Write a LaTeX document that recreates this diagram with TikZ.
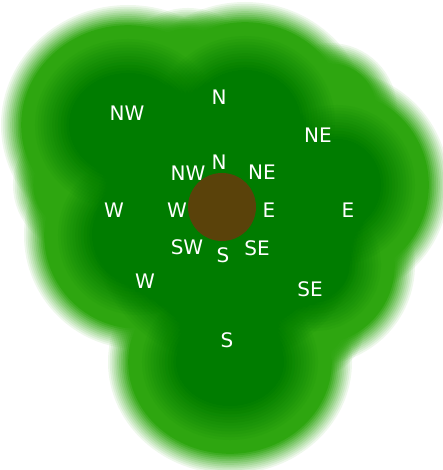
\documentclass[tikz,border=0pt]{standalone}
\usepackage{fontspec}
\setmainfont{DejaVu Sans}
\definecolor{gdark}{RGB}{0,124,0}
\definecolor{glight}{RGB}{46,166,16}
\definecolor{trunkbrown}{RGB}{90,66,10}
% lobes: centre x / centre y / x radius / y radius / inset of the opaque part
\newcommand\lightlobes{128/125/115/108/10, 245/122/112/108/10, 337/185/100/102/10, 315/265/88/88/10, 230/362/110/100/10, 138/235/102/102/10, 188/80/60/60/10, 80/185/55/55/10, 330/110/55/55/10, 316/328/36/36/10}
\newcommand\darklobes{128/125/115/108/62, 245/122/112/108/62, 337/185/100/102/62, 315/265/88/88/62, 230/362/110/100/62, 138/235/102/102/62, 228/228/95/95/0}
\tikzset{
  lab/.style={text=white, font=\fontsize{20}{24}\selectfont, inner sep=0pt},
}
\begin{document}
\begin{tikzpicture}[x=1pt,y=-1pt]
\useasboundingbox (0,0) rectangle (442,470);
% light canopy with soft outer edge
\foreach \cx/\cy/\rx/\ry/\ins in \lightlobes {
  \fill[glight] (\cx,\cy) ellipse [x radius={(\rx-\ins)*1pt}, y radius={(\ry-\ins)*1pt}];
  \foreach \j in {1,...,12} {
    \pgfmathsetmacro{\lw}{2*22*\j/12}
    \pgfmathsetmacro{\aa}{1/\j}
    \draw[glight, line width=\lw pt, opacity=\aa] (\cx,\cy) ellipse [x radius={(\rx-\ins)*1pt}, y radius={(\ry-\ins)*1pt}];
  }
}
% dark interior with soft edge
\foreach \cx/\cy/\rx/\ry/\ins in \darklobes {
  \fill[gdark] (\cx,\cy) ellipse [x radius={(\rx-\ins)*1pt}, y radius={(\ry-\ins)*1pt}];
  \foreach \j in {1,...,14} {
    \pgfmathsetmacro{\lw}{2*40*\j/14}
    \pgfmathsetmacro{\aa}{1/\j}
    \draw[gdark, line width=\lw pt, opacity=\aa] (\cx,\cy) ellipse [x radius={(\rx-\ins)*1pt}, y radius={(\ry-\ins)*1pt}];
  }
}
% trunk
\node[circle, fill=trunkbrown, minimum size=68pt, inner sep=0pt] (trunk) at (222,207) {};
% outer labels
\node[lab] (oN)  at (219,97)  {N};
\node[lab] (oNW) at (127,113) {NW};
\node[lab] (oNE) at (318,135) {NE};
\node[lab] (oE)  at (348,210) {E};
\node[lab] (oW)  at (114,210) {W};
\node[lab] (oSW) at (145,281) {W};
\node[lab] (oSE) at (310,289) {SE};
\node[lab] (oS)  at (227,340) {S};
% inner labels
\node[lab] (iN)  at (219,162) {N};
\node[lab] (iNW) at (188,173) {NW};
\node[lab] (iNE) at (262,172) {NE};
\node[lab] (iW)  at (177,210) {W};
\node[lab] (iE)  at (269,210) {E};
\node[lab] (iSW) at (187,247) {SW};
\node[lab] (iS)  at (223,255) {S};
\node[lab] (iSE) at (257,248) {SE};
\end{tikzpicture}
\end{document}
